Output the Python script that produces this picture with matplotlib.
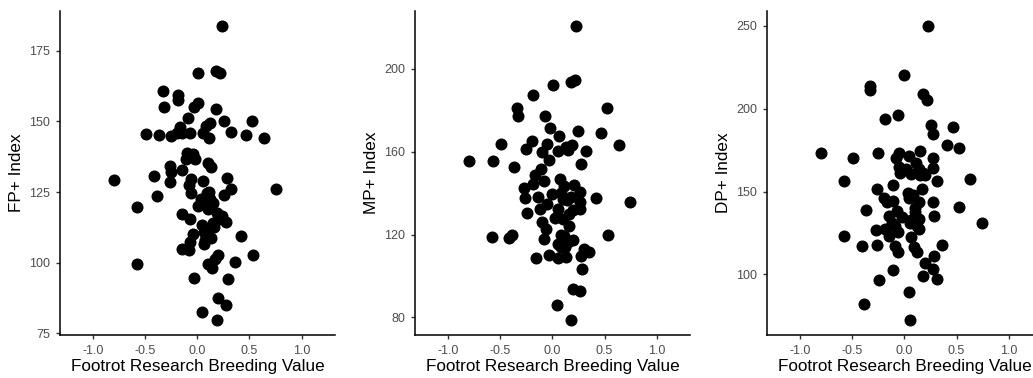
import matplotlib.pyplot as plt
import numpy as np

plt.rcParams['font.family'] = ['Liberation Sans', 'DejaVu Sans']

# Footrot research breeding value vs. index
fp_x = [0.24, 0.01, 0.18, 0.22, -0.33, -0.19, -0.19, -0.32, 0.01, -0.03,
        0.18, -0.09, 0.12, 0.26, 0.52, 0.08, -0.17, -0.49, -0.37, -0.25,
        -0.20, -0.15, -0.07, 0.05, 0.11, 0.32, 0.47, 0.64, -0.10, -0.04,
        -0.11, -0.02, -0.26, 0.10, 0.13, -0.15, -0.25, -0.42, 0.28, -0.80,
        -0.26, -0.06, -0.08, 0.05, -0.06, 0.32, 0.75, 0.26, -0.39, 0.09,
        0.12, 0.07, 0.15, 0.01, -0.58, 0.10, 0.19, -0.15, 0.24, 0.27,
        -0.07, 0.15, 0.04, 0.06, 0.10, -0.04, 0.07, 0.13, 0.42, 0.06,
        -0.07, -0.15, -0.08, 0.53, 0.20, 0.17, 0.36, 0.10, -0.58, 0.14,
        -0.03, 0.29, 0.20, 0.27, 0.04, 0.19, 0.03, 0.11, 0.21, 0.09, 0.16]
fp_y = [183.8, 167.0, 167.7, 167.2, 160.7, 159.2, 157.5, 155.1, 156.3, 155.0,
        154.5, 151.3, 149.5, 150.2, 150.2, 148.2, 148.1, 145.5, 145.2, 144.8,
        145.8, 145.8, 145.8, 145.8, 144.2, 146.1, 145.0, 144.2, 138.7, 138.5,
        136.6, 136.8, 134.3, 135.2, 134.0, 132.9, 132.0, 130.8, 130.0, 129.3,
        128.7, 129.5, 127.5, 129.0, 124.7, 126.1, 126.1, 123.9, 123.5, 124.5,
        122.4, 121.0, 121.2, 120.0, 119.8, 118.9, 117.7, 117.1, 116.5, 114.4,
        115.4, 114.2, 113.2, 110.7, 111.5, 110.0, 108.1, 108.6, 109.4, 106.6,
        107.2, 105.0, 104.6, 102.7, 102.7, 101.3, 100.4, 99.6, 99.6, 98.0,
        94.5, 94.3, 87.6, 85.2, 82.6, 79.7, 122.5, 125.0, 115.5, 112.0, 112.5]

mp_x = [0.23, 0.01, 0.18, 0.22, -0.19, -0.34, -0.33, 0.52, -0.07, -0.02,
        0.25, 0.47, 0.06, -0.49, -0.20, -0.25, -0.05, -0.10, 0.05, 0.13,
        0.19, 0.15, 0.64, 0.32, -0.80, -0.57, -0.03, 0.27, -0.37, -0.11,
        -0.17, -0.08, 0.07, -0.27, -0.19, 0.21, 0.11, -0.26, -0.14, 0.00,
        0.08, 0.26, 0.42, 0.74, -0.05, 0.14, 0.26, -0.12, 0.26, -0.24,
        0.05, 0.16, 0.02, 0.10, -0.10, 0.16, -0.06, -0.58, -0.42, -0.39,
        0.53, -0.08, 0.05, 0.11, 0.15, 0.20, 0.08, 0.30, 0.35, 0.27,
        -0.16, -0.03, 0.05, 0.13, 0.28, 0.20, 0.26, 0.04, 0.18, 0.10,
        0.12, 0.08, 0.18, 0.20, 0.10]
mp_y = [220.7, 192.3, 193.6, 194.4, 187.5, 180.8, 177.3, 180.8, 177.3, 171.6,
        169.7, 168.9, 167.3, 163.8, 165.2, 161.4, 163.6, 159.6, 160.4, 162.2,
        163.3, 160.6, 163.3, 160.4, 155.6, 155.3, 156.1, 154.2, 152.4, 151.6,
        148.9, 145.7, 146.9, 142.5, 144.5, 144.1, 143.3, 137.8, 138.1, 139.4,
        140.2, 140.5, 137.8, 135.7, 134.6, 136.5, 135.7, 132.5, 132.2, 130.6,
        132.2, 129.8, 128.2, 127.4, 126.1, 124.2, 122.6, 118.6, 118.3, 119.9,
        119.7, 117.8, 115.4, 119.4, 116.2, 117.3, 113.8, 113.0, 111.4, 109.8,
        108.6, 110.2, 108.6, 109.4, 103.5, 93.9, 92.6, 86.2, 78.7, 117.0,
        114.0, 120.0, 138.0, 132.0, 137.0]

dp_x = [0.23, 0.00, -0.33, -0.33, 0.18, 0.22, -0.06, -0.19, 0.25, 0.47,
        0.27, 0.41, 0.52, -0.80, -0.49, -0.25, -0.05, -0.08, 0.04, 0.15,
        0.11, 0.27, -0.58, -0.04, 0.01, 0.06, 0.14, 0.18, 0.27, 0.31,
        0.63, -0.26, -0.11, 0.17, 0.03, -0.20, -0.17, -0.11, 0.04, 0.14,
        0.27, -0.37, 0.52, -0.07, -0.15, -0.02, 0.10, 0.28, 0.14, 0.06,
        0.74, -0.09, 0.12, -0.27, -0.19, -0.06, 0.14, -0.58, -0.15, 0.06,
        -0.26, -0.41, 0.36, -0.09, 0.09, -0.06, 0.12, 0.28, 0.20, 0.27,
        -0.11, 0.18, 0.31, -0.24, 0.04, -0.39, 0.05, 0.08, 0.10, 0.05,
        -0.12, 0.15, 0.20, -0.05]
dp_y = [250.0, 220.4, 213.8, 211.0, 209.0, 205.4, 196.0, 193.8, 190.4, 188.8,
        184.4, 177.8, 176.4, 173.4, 170.4, 173.4, 173.4, 170.4, 171.4, 174.4,
        167.4, 170.4, 156.4, 161.4, 163.4, 160.4, 163.4, 161.4, 164.4, 156.4,
        157.8, 151.8, 154.0, 151.8, 149.4, 146.0, 143.4, 144.0, 145.8, 143.4,
        143.4, 139.0, 140.4, 138.0, 135.4, 134.4, 137.4, 135.0, 133.4, 133.0,
        131.0, 129.4, 129.4, 126.8, 127.4, 125.4, 127.4, 123.0, 123.4, 122.4,
        117.8, 117.4, 117.8, 117.4, 116.4, 113.4, 113.4, 111.0, 107.0, 103.0,
        102.4, 99.0, 97.4, 96.4, 89.4, 82.4, 72.4, 148.0, 140.0, 131.0,
        131.0, 160.0, 160.0, 165.0]

panels = [
    (fp_x, fp_y, "FP+ Index", [75, 100, 125, 150, 175], 0.058),
    (mp_x, mp_y, "MP+ Index", [80, 120, 160, 200], 0.4017),
    (dp_x, dp_y, "DP+ Index", [100, 150, 200, 250], 0.7425),
]
xticks = [-1.0, -0.5, 0.0, 0.5, 1.0]

fig = plt.figure(figsize=(10.33, 3.78), dpi=100)

for xs, ys, ylab, yticks, left in panels:
    ax = fig.add_axes([left, 0.114, 0.2662, 0.857])
    ax.scatter(xs, ys, s=75, color="black", linewidths=0, zorder=3)
    ax.set_xlim(-1.32, 1.32)
    ax.margins(y=0.05)
    ax.set_xticks(xticks)
    ax.set_xticklabels(["%.1f" % t for t in xticks])
    ax.set_yticks(yticks)
    ax.set_xlabel("Footrot Research Breeding Value", fontsize=12.3, labelpad=2)
    ax.set_ylabel(ylab, fontsize=12.3, labelpad=4)
    for side in ["top", "right"]:
        ax.spines[side].set_visible(False)
    for side in ["left", "bottom"]:
        ax.spines[side].set_linewidth(1.1)
    ax.tick_params(length=3, width=1, color="#333333", labelsize=9,
                   labelcolor="#4d4d4d", pad=4)

plt.savefig("out.png", dpi=100)
